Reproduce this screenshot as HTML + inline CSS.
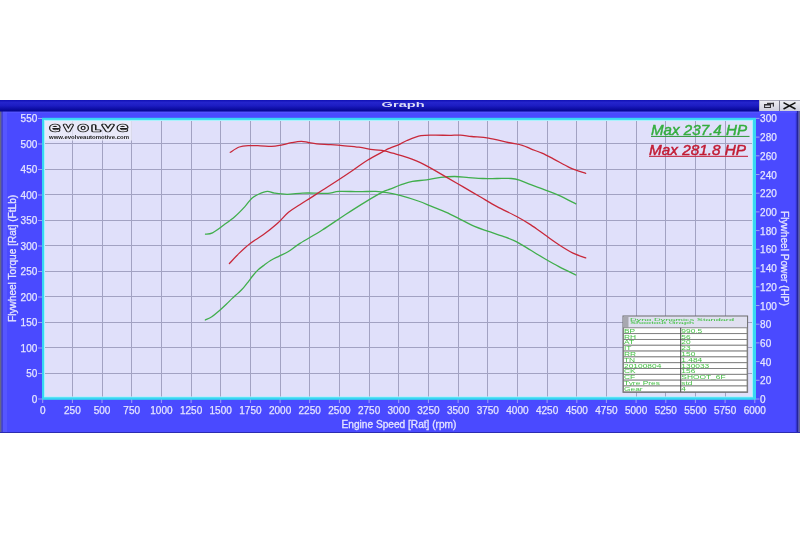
<!DOCTYPE html>
<html><head><meta charset="utf-8"><title>Graph</title>
<style>
html,body{margin:0;padding:0;background:#fff;}
body{width:800px;height:533px;overflow:hidden;position:relative;}
svg{position:absolute;left:0;top:0;display:block;}
text{font-family:"Liberation Sans",Arial,sans-serif;}
</style></head><body>
<svg width="800" height="533" viewBox="0 0 800 533">
<defs>
<linearGradient id="tb" x1="0" y1="0" x2="0" y2="1">
<stop offset="0" stop-color="#1010b4"/><stop offset="0.22" stop-color="#2424cc"/><stop offset="0.5" stop-color="#1c1cc2"/><stop offset="0.85" stop-color="#0a0a9c"/><stop offset="1" stop-color="#04048a"/>
</linearGradient>
<linearGradient id="btn" x1="0" y1="0" x2="0" y2="1">
<stop offset="0" stop-color="#f0f0f6"/><stop offset="1" stop-color="#cfd0de"/>
</linearGradient>
</defs>
<rect x="0" y="0" width="800" height="533" fill="#ffffff"/>
<!-- window body -->
<rect x="0" y="100" width="800" height="333" fill="#4a4aff"/>
<rect x="2.5" y="111" width="4.5" height="321" fill="#5656ff"/>
<rect x="0" y="100" width="1.6" height="333" fill="#66668a"/>
<rect x="1.6" y="100" width="1" height="333" fill="#3a3ac0"/>
<rect x="795.6" y="111" width="1" height="321" fill="#3a3ae6"/>
<rect x="796.6" y="100" width="1.8" height="333" fill="#24249a"/>
<rect x="798.4" y="100" width="1.6" height="333" fill="#62629a"/>
<rect x="0" y="432" width="800" height="1" fill="#2c2cb0"/>
<rect x="3" y="111.5" width="794" height="1" fill="#5c5cff"/>
<!-- title bar -->
<rect x="0" y="100" width="759" height="11.5" fill="url(#tb)"/>
<text x="0" y="0" transform="translate(381.6,106.5) scale(2.32,1)" font-size="6.3" font-weight="bold" fill="#dcdcf8">Graph</text>
<!-- buttons -->
<rect x="759" y="100" width="41" height="11" fill="url(#btn)"/>
<rect x="759" y="100" width="41" height="0.8" fill="#9a9aae"/>
<rect x="779" y="100.5" width="1" height="10.5" fill="#7a7a8c"/>
<rect x="759" y="100.5" width="0.8" height="10.5" fill="#b0b0c0"/>
<g fill="#333338">
<rect x="767" y="102.8" width="7" height="1.4"/>
<rect x="772.8" y="102.8" width="1.2" height="3.8"/>
<rect x="764" y="104" width="7" height="1.5"/>
<rect x="764" y="104" width="1.1" height="4"/>
<rect x="769.9" y="104" width="1.1" height="4"/>
<rect x="764" y="107" width="7" height="1"/>
</g>
<path d="M783.5,102.6 L795.5,109 M783.5,109 L795.5,102.6" stroke="#111" stroke-width="1.5" fill="none"/>

<rect x="42" y="117.8" width="714" height="282" fill="#38d8f2"/>
<rect x="44" y="119.9" width="709" height="277.4" fill="#a8f2fc"/>
<rect x="45" y="121" width="707" height="275.5" fill="#e0e0fa"/>
<path d="M72.5,121V396.5 M102.5,121V396.5 M131.5,121V396.5 M161.5,121V396.5 M191.5,121V396.5 M220.5,121V396.5 M250.5,121V396.5 M280.5,121V396.5 M309.5,121V396.5 M339.5,121V396.5 M369.5,121V396.5 M398.5,121V396.5 M428.5,121V396.5 M458.5,121V396.5 M487.5,121V396.5 M517.5,121V396.5 M547.5,121V396.5 M576.5,121V396.5 M606.5,121V396.5 M636.5,121V396.5 M665.5,121V396.5 M695.5,121V396.5 M725.5,121V396.5 M45,373.5H752 M45,347.5H752 M45,322.5H752 M45,296.5H752 M45,271.5H752 M45,245.5H752 M45,220.5H752 M45,194.5H752 M45,169.5H752 M45,143.5H752" stroke="#a2a2c2" stroke-width="1" fill="none"/>
<rect x="45" y="121" width="87" height="19.5" fill="#ececf8" fill-opacity="0.75"/>
<g fill="none" stroke="#1c1c1c" stroke-width="2.5" stroke-linejoin="round" stroke-linecap="round"><text style="font-family:DejaVu Sans,sans-serif;font-weight:200" y="131.0"><tspan x="49.40" font-size="11.2" textLength="10.60" lengthAdjust="spacingAndGlyphs">e</tspan><tspan x="63.40" font-size="11.2" textLength="9.70" lengthAdjust="spacingAndGlyphs">v</tspan><tspan x="77.70" font-size="11.2" textLength="10.80" lengthAdjust="spacingAndGlyphs">o</tspan><tspan x="91.65" font-size="7.7" textLength="8.05" lengthAdjust="spacingAndGlyphs" style="text-transform:uppercase">l</tspan><tspan x="102.10" font-size="11.2" textLength="12.00" lengthAdjust="spacingAndGlyphs">v</tspan><tspan x="116.90" font-size="11.2" textLength="10.90" lengthAdjust="spacingAndGlyphs">e</tspan></text></g>
<g fill="none" stroke="#ececf6" stroke-width="0.8" stroke-linejoin="round" stroke-linecap="round"><text style="font-family:DejaVu Sans,sans-serif;font-weight:200" y="131.0"><tspan x="49.40" font-size="11.2" textLength="10.60" lengthAdjust="spacingAndGlyphs">e</tspan><tspan x="63.40" font-size="11.2" textLength="9.70" lengthAdjust="spacingAndGlyphs">v</tspan><tspan x="77.70" font-size="11.2" textLength="10.80" lengthAdjust="spacingAndGlyphs">o</tspan><tspan x="91.65" font-size="7.7" textLength="8.05" lengthAdjust="spacingAndGlyphs" style="text-transform:uppercase">l</tspan><tspan x="102.10" font-size="11.2" textLength="12.00" lengthAdjust="spacingAndGlyphs">v</tspan><tspan x="116.90" font-size="11.2" textLength="10.90" lengthAdjust="spacingAndGlyphs">e</tspan></text></g>
<text x="49" y="139.3" font-size="5.6" font-weight="bold" textLength="80" lengthAdjust="spacingAndGlyphs" fill="#222">www.evolveautomotive.com</text>
<g fill="none" stroke-width="1.3" stroke-linejoin="round" stroke-linecap="round">
<path d="M205.50,234.20C206.67,233.97 209.45,234.33 212.50,232.80C215.55,231.27 220.05,227.72 223.80,225.00C227.55,222.28 231.48,219.57 235.00,216.50C238.52,213.43 242.08,209.65 244.90,206.60C247.72,203.55 249.55,200.30 251.90,198.20C254.25,196.10 256.42,195.13 259.00,194.00C261.58,192.87 264.82,191.55 267.40,191.40C269.98,191.25 271.22,192.62 274.50,193.10C277.78,193.58 282.42,194.30 287.10,194.30C291.78,194.30 297.67,193.30 302.60,193.10C307.53,192.90 312.47,193.05 316.70,193.10C320.93,193.15 324.25,193.68 328.00,193.40C331.75,193.12 334.05,191.68 339.20,191.40C344.35,191.12 352.80,191.70 358.90,191.70C365.00,191.70 371.12,191.25 375.80,191.40C380.48,191.55 382.97,191.93 387.00,192.60C391.03,193.27 394.80,194.00 400.00,195.40C405.20,196.80 412.83,199.13 418.20,201.00C423.57,202.87 427.52,204.72 432.20,206.60C436.88,208.48 441.60,210.18 446.30,212.30C451.00,214.42 455.70,216.95 460.40,219.30C465.10,221.65 469.82,224.38 474.50,226.40C479.18,228.42 483.82,229.77 488.50,231.40C493.18,233.03 497.90,234.47 502.60,236.20C507.30,237.93 512.00,239.45 516.70,241.80C521.40,244.15 526.12,247.48 530.80,250.30C535.48,253.12 540.12,255.98 544.80,258.70C549.48,261.42 553.73,263.88 558.90,266.60C564.07,269.32 572.98,273.60 575.80,275.00" stroke="#40ae4c"/>
<path d="M205.30,320.00C206.38,319.47 209.62,318.22 211.80,316.80C213.98,315.38 215.98,313.58 218.40,311.50C220.82,309.42 224.00,306.48 226.30,304.30C228.60,302.12 230.23,300.27 232.20,298.40C234.17,296.53 236.23,294.85 238.10,293.10C239.97,291.35 241.65,289.87 243.40,287.90C245.15,285.93 247.07,283.28 248.60,281.30C250.13,279.32 251.07,277.87 252.60,276.00C254.13,274.13 255.83,271.95 257.80,270.10C259.77,268.25 262.20,266.53 264.40,264.90C266.60,263.27 268.60,261.73 271.00,260.30C273.40,258.87 275.97,257.72 278.80,256.30C281.63,254.88 284.47,253.95 288.00,251.80C291.53,249.65 294.28,247.03 300.00,243.40C305.72,239.77 314.83,234.73 322.30,230.00C329.77,225.27 337.52,219.73 344.80,215.00C352.08,210.27 359.42,205.57 366.00,201.60C372.58,197.63 380.30,193.27 384.30,191.20C388.30,189.13 387.17,190.28 390.00,189.20C392.83,188.12 397.55,186.02 401.30,184.70C405.05,183.38 408.28,182.10 412.50,181.30C416.72,180.50 421.90,180.55 426.60,179.90C431.30,179.25 436.00,177.97 440.70,177.40C445.40,176.83 450.12,176.47 454.80,176.50C459.48,176.53 464.12,177.27 468.80,177.60C473.48,177.93 478.20,178.35 482.90,178.50C487.60,178.65 492.30,178.50 497.00,178.50C501.70,178.50 507.35,178.22 511.10,178.50C514.85,178.78 516.22,179.17 519.50,180.20C522.78,181.23 526.58,183.10 530.80,184.70C535.02,186.30 540.12,188.02 544.80,189.80C549.48,191.58 553.73,193.07 558.90,195.40C564.07,197.73 572.98,202.40 575.80,203.80" stroke="#40ae4c"/>
<path d="M230.30,152.30C231.80,151.42 236.17,148.12 239.30,147.00C242.43,145.88 245.58,145.80 249.10,145.60C252.62,145.40 256.65,145.67 260.40,145.80C264.15,145.93 268.32,146.48 271.60,146.40C274.88,146.32 276.80,145.92 280.10,145.30C283.40,144.68 287.88,143.37 291.40,142.70C294.92,142.03 298.40,141.33 301.20,141.30C304.00,141.27 305.62,142.07 308.20,142.50C310.78,142.93 312.93,143.53 316.70,143.90C320.47,144.27 326.12,144.38 330.80,144.70C335.48,145.02 340.12,145.38 344.80,145.80C349.48,146.22 354.20,146.57 358.90,147.20C363.60,147.83 368.77,148.98 373.00,149.60C377.23,150.22 381.02,150.30 384.30,150.90C387.58,151.50 388.93,152.12 392.70,153.20C396.47,154.28 401.72,155.53 406.90,157.40C412.08,159.27 417.23,161.12 423.80,164.40C430.37,167.68 439.73,173.35 446.30,177.10C452.87,180.85 457.57,183.62 463.20,186.90C468.83,190.18 474.47,193.52 480.10,196.80C485.73,200.08 490.90,203.32 497.00,206.60C503.10,209.88 511.07,213.45 516.70,216.50C522.33,219.55 526.12,221.85 530.80,224.90C535.48,227.95 540.12,231.50 544.80,234.80C549.48,238.10 554.20,241.65 558.90,244.70C563.60,247.75 568.53,250.90 573.00,253.10C577.47,255.30 583.58,257.10 585.70,257.90" stroke="#c8283a"/>
<path d="M229.40,263.50C231.05,261.77 235.78,256.48 239.30,253.10C242.82,249.72 246.52,246.25 250.50,243.20C254.48,240.15 258.73,238.08 263.20,234.80C267.67,231.52 273.08,227.25 277.30,223.50C281.52,219.75 284.75,215.43 288.50,212.30C292.25,209.17 296.05,207.15 299.80,204.70C303.55,202.25 307.25,200.00 311.00,197.60C314.75,195.20 318.07,193.02 322.30,190.30C326.53,187.58 331.23,184.68 336.40,181.30C341.57,177.92 348.13,173.52 353.30,170.00C358.47,166.48 362.23,163.38 367.40,160.20C372.57,157.02 380.53,152.92 384.30,150.90C388.07,148.88 387.38,149.23 390.00,148.10C392.62,146.97 397.18,145.37 400.00,144.10C402.82,142.83 403.40,141.90 406.90,140.50C410.40,139.10 416.32,136.60 421.00,135.70C425.68,134.80 430.32,135.15 435.00,135.10C439.68,135.05 444.87,135.40 449.10,135.40C453.33,135.40 456.65,134.92 460.40,135.10C464.15,135.28 466.92,135.98 471.60,136.50C476.28,137.02 482.40,137.20 488.50,138.20C494.60,139.20 502.57,141.32 508.20,142.50C513.83,143.68 518.53,144.23 522.30,145.30C526.07,146.37 527.52,147.58 530.80,148.90C534.08,150.22 538.25,151.55 542.00,153.20C545.75,154.85 548.60,156.37 553.30,158.80C558.00,161.23 564.80,165.37 570.20,167.80C575.60,170.23 583.12,172.47 585.70,173.40" stroke="#c8283a"/>
</g>
<text x="651" y="134.5" font-size="14.2" font-style="italic" fill="#34ae3e" stroke="#34ae3e" stroke-width="0.45" textLength="96" lengthAdjust="spacingAndGlyphs">Max 237.4 HP</text>
<rect x="651" y="135.9" width="98.5" height="1.1" fill="#3c9c48"/>
<text x="649" y="154.7" font-size="14.2" font-style="italic" fill="#c21c34" stroke="#c21c34" stroke-width="0.45" textLength="97" lengthAdjust="spacingAndGlyphs">Max 281.8 HP</text>
<rect x="649" y="155.8" width="99" height="1.1" fill="#c42a44"/>
<rect x="623.0" y="316.0" width="124.6" height="76.3" fill="#e0e0f0" stroke="#6a6a6a" stroke-width="1"/>
<rect x="623.5" y="316.5" width="5" height="11" fill="#a8a8b0"/>
<text x="630" y="320.6" font-size="4.2" fill="#38c038" textLength="104" lengthAdjust="spacingAndGlyphs">Dyno Dynamics Standard</text>
<text x="630" y="324.2" font-size="4.2" fill="#38c038" textLength="64" lengthAdjust="spacingAndGlyphs">Shootout Graph</text>
<rect x="623.5" y="327.80" width="123.6" height="5.82" fill="#ffffff" stroke="#7c7c7c" stroke-width="0.9"/>
<text transform="translate(624,332.72) scale(1.5,1)" font-size="5.6" fill="#44c044">BP</text>
<text transform="translate(681.3,332.72) scale(1.5,1)" font-size="5.6" fill="#44c044">990.5</text>
<rect x="623.5" y="333.62" width="123.6" height="5.82" fill="#ffffff" stroke="#7c7c7c" stroke-width="0.9"/>
<text transform="translate(624,338.54) scale(1.5,1)" font-size="5.6" fill="#44c044">RH</text>
<text transform="translate(681.3,338.54) scale(1.5,1)" font-size="5.6" fill="#44c044">56</text>
<rect x="623.5" y="339.44" width="123.6" height="5.82" fill="#ffffff" stroke="#7c7c7c" stroke-width="0.9"/>
<text transform="translate(624,344.35) scale(1.5,1)" font-size="5.6" fill="#44c044">AT</text>
<text transform="translate(681.3,344.35) scale(1.5,1)" font-size="5.6" fill="#44c044">20</text>
<rect x="623.5" y="345.25" width="123.6" height="5.82" fill="#ffffff" stroke="#7c7c7c" stroke-width="0.9"/>
<text transform="translate(624,350.17) scale(1.5,1)" font-size="5.6" fill="#44c044">IT</text>
<text transform="translate(681.3,350.17) scale(1.5,1)" font-size="5.6" fill="#44c044">23</text>
<rect x="623.5" y="351.07" width="123.6" height="5.82" fill="#ffffff" stroke="#7c7c7c" stroke-width="0.9"/>
<text transform="translate(624,355.99) scale(1.5,1)" font-size="5.6" fill="#44c044">RR</text>
<text transform="translate(681.3,355.99) scale(1.5,1)" font-size="5.6" fill="#44c044">150</text>
<rect x="623.5" y="356.89" width="123.6" height="5.82" fill="#ffffff" stroke="#7c7c7c" stroke-width="0.9"/>
<text transform="translate(624,361.81) scale(1.5,1)" font-size="5.6" fill="#44c044">TN</text>
<text transform="translate(681.3,361.81) scale(1.5,1)" font-size="5.6" fill="#44c044">1.484</text>
<rect x="623.5" y="362.71" width="123.6" height="5.82" fill="#ffffff" stroke="#7c7c7c" stroke-width="0.9"/>
<text transform="translate(624,367.63) scale(1.5,1)" font-size="5.6" fill="#44c044">20100804</text>
<text transform="translate(681.3,367.63) scale(1.5,1)" font-size="5.6" fill="#44c044">130033</text>
<rect x="623.5" y="368.53" width="123.6" height="5.82" fill="#ffffff" stroke="#7c7c7c" stroke-width="0.9"/>
<text transform="translate(624,373.45) scale(1.5,1)" font-size="5.6" fill="#44c044">CK</text>
<text transform="translate(681.3,373.45) scale(1.5,1)" font-size="5.6" fill="#44c044">156</text>
<rect x="623.5" y="374.35" width="123.6" height="5.82" fill="#ffffff" stroke="#7c7c7c" stroke-width="0.9"/>
<text transform="translate(624,379.26) scale(1.5,1)" font-size="5.6" fill="#44c044">CF</text>
<text transform="translate(681.3,379.26) scale(1.5,1)" font-size="5.6" fill="#44c044">SHOOT_6F</text>
<rect x="623.5" y="380.16" width="123.6" height="5.82" fill="#ffffff" stroke="#7c7c7c" stroke-width="0.9"/>
<text transform="translate(624,385.08) scale(1.5,1)" font-size="5.6" fill="#44c044">Tyre Pres</text>
<text transform="translate(681.3,385.08) scale(1.5,1)" font-size="5.6" fill="#44c044">std</text>
<rect x="623.5" y="385.98" width="123.6" height="5.82" fill="#ffffff" stroke="#7c7c7c" stroke-width="0.9"/>
<text transform="translate(624,390.90) scale(1.5,1)" font-size="5.6" fill="#44c044">Gear</text>
<text transform="translate(681.3,390.90) scale(1.5,1)" font-size="5.6" fill="#44c044">4</text>
<path d="M680.7,327.8V391.8" stroke="#404040" stroke-width="1"/>
<path d="M38,399.0H42 M38,373.5H42 M38,348.0H42 M38,322.5H42 M38,297.0H42 M38,271.5H42 M38,246.0H42 M38,220.5H42 M38,195.0H42 M38,169.5H42 M38,144.0H42 M38,118.5H42 M42.7,399.5V403 M72.4,399.5V403 M102.0,399.5V403 M131.7,399.5V403 M161.4,399.5V403 M191.1,399.5V403 M220.7,399.5V403 M250.4,399.5V403 M280.1,399.5V403 M309.7,399.5V403 M339.4,399.5V403 M369.1,399.5V403 M398.7,399.5V403 M428.4,399.5V403 M458.1,399.5V403 M487.8,399.5V403 M517.4,399.5V403 M547.1,399.5V403 M576.8,399.5V403 M606.4,399.5V403 M636.1,399.5V403 M665.8,399.5V403 M695.4,399.5V403 M725.1,399.5V403 M754.8,399.5V403 M756,399.0H759.5 M756,380.3H759.5 M756,361.6H759.5 M756,342.9H759.5 M756,324.2H759.5 M756,305.5H759.5 M756,286.8H759.5 M756,268.1H759.5 M756,249.3H759.5 M756,230.6H759.5 M756,211.9H759.5 M756,193.2H759.5 M756,174.5H759.5 M756,155.8H759.5 M756,137.1H759.5 M756,118.4H759.5" stroke="#b4b4f4" stroke-width="0.8" fill="none"/>
<g font-size="10" fill="#e4e4ff" stroke="#e4e4ff" stroke-width="0.25"><text x="37.3" y="402.6" text-anchor="end">0</text><text x="37.3" y="377.1" text-anchor="end">50</text><text x="37.3" y="351.6" text-anchor="end">100</text><text x="37.3" y="326.1" text-anchor="end">150</text><text x="37.3" y="300.6" text-anchor="end">200</text><text x="37.3" y="275.1" text-anchor="end">250</text><text x="37.3" y="249.6" text-anchor="end">300</text><text x="37.3" y="224.1" text-anchor="end">350</text><text x="37.3" y="198.6" text-anchor="end">400</text><text x="37.3" y="173.1" text-anchor="end">450</text><text x="37.3" y="147.6" text-anchor="end">500</text><text x="37.3" y="122.1" text-anchor="end">550</text><text x="42.7" y="413.5" text-anchor="middle">0</text><text x="72.4" y="413.5" text-anchor="middle">250</text><text x="102.0" y="413.5" text-anchor="middle">500</text><text x="131.7" y="413.5" text-anchor="middle">750</text><text x="161.4" y="413.5" text-anchor="middle">1000</text><text x="191.1" y="413.5" text-anchor="middle">1250</text><text x="220.7" y="413.5" text-anchor="middle">1500</text><text x="250.4" y="413.5" text-anchor="middle">1750</text><text x="280.1" y="413.5" text-anchor="middle">2000</text><text x="309.7" y="413.5" text-anchor="middle">2250</text><text x="339.4" y="413.5" text-anchor="middle">2500</text><text x="369.1" y="413.5" text-anchor="middle">2750</text><text x="398.7" y="413.5" text-anchor="middle">3000</text><text x="428.4" y="413.5" text-anchor="middle">3250</text><text x="458.1" y="413.5" text-anchor="middle">3500</text><text x="487.8" y="413.5" text-anchor="middle">3750</text><text x="517.4" y="413.5" text-anchor="middle">4000</text><text x="547.1" y="413.5" text-anchor="middle">4250</text><text x="576.8" y="413.5" text-anchor="middle">4500</text><text x="606.4" y="413.5" text-anchor="middle">4750</text><text x="636.1" y="413.5" text-anchor="middle">5000</text><text x="665.8" y="413.5" text-anchor="middle">5250</text><text x="695.4" y="413.5" text-anchor="middle">5500</text><text x="725.1" y="413.5" text-anchor="middle">5750</text><text x="754.8" y="413.5" text-anchor="middle">6000</text><text x="760.1" y="403.0">0</text><text x="760.1" y="384.3">20</text><text x="760.1" y="365.6">40</text><text x="760.1" y="346.9">60</text><text x="760.1" y="328.2">80</text><text x="760.1" y="309.5">100</text><text x="760.1" y="290.8">120</text><text x="760.1" y="272.1">140</text><text x="760.1" y="253.3">160</text><text x="760.1" y="234.6">180</text><text x="760.1" y="215.9">200</text><text x="760.1" y="197.2">220</text><text x="760.1" y="178.5">240</text><text x="760.1" y="159.8">260</text><text x="760.1" y="141.1">280</text><text x="760.1" y="122.4">300</text></g>
<text x="0" y="0" transform="translate(16,258.4) rotate(-90)" text-anchor="middle" font-size="10.1" fill="#e4e4ff" stroke="#e4e4ff" stroke-width="0.3">Flywheel Torque [Rat] (FtLb)</text>
<text x="0" y="0" transform="translate(780.8,258.5) rotate(90)" text-anchor="middle" font-size="10.1" fill="#e4e4ff" stroke="#e4e4ff" stroke-width="0.3">Flywheel Power (HP)</text>
<text x="399" y="427.9" text-anchor="middle" font-size="10.15" fill="#e4e4ff" stroke="#e4e4ff" stroke-width="0.3">Engine Speed [Rat] (rpm)</text>
</svg></body></html>
